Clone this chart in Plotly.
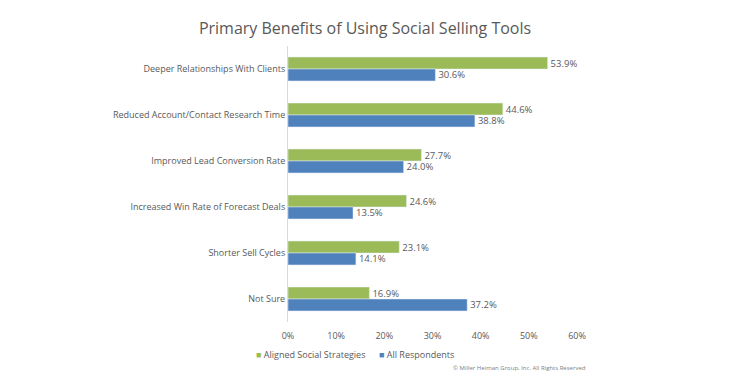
import plotly.graph_objects as go

categories = [
    "Deeper Relationships With Clients",
    "Reduced Account/Contact Research Time",
    "Improved Lead Conversion Rate",
    "Increased Win Rate of Forecast Deals",
    "Shorter Sell Cycles",
    "Not Sure",
]
aligned = [53.9, 44.6, 27.7, 24.6, 23.1, 16.9]
all_resp = [30.6, 38.8, 24.0, 13.5, 14.1, 37.2]
x_ticks = [0, 10, 20, 30, 40, 50, 60]
series_names = ["Aligned Social Strategies", "All Respondents"]
series_colors = ["#9BBB59", "#4F81BD"]

FONT = "Open Sans"
GRAY = "#595959"

fig = go.Figure()
for name, vals, col in zip(series_names, [aligned, all_resp], series_colors):
    fig.add_trace(go.Bar(
        y=categories, x=vals, orientation="h", name=name,
        marker=dict(color=col), text=[f"{v:.1f}%" for v in vals],
        textposition="outside", constraintext="none",
        textfont=dict(size=9.5, color=GRAY, family=FONT),
        cliponaxis=False, showlegend=False,
    ))

legend_x = [-0.118, 0.308]
annotations = []
for name, col, lx in zip(series_names, series_colors, legend_x):
    annotations.append(dict(
        text=f"<span style='color:{col}'>■</span> {name}",
        xref="paper", yref="paper", x=lx, y=-0.119, xanchor="left", yanchor="middle",
        showarrow=False, font=dict(size=9, color=GRAY, family=FONT)))
annotations.append(dict(text="© Miller Heiman Group, Inc. All Rights Reserved",
                        xref="paper", yref="paper", x=1.038, y=-0.166,
                        xanchor="right", yanchor="middle", showarrow=False,
                        font=dict(size=6, color="#808080", family=FONT)))

fig.update_layout(
    width=750, height=384,
    margin=dict(l=280, r=181, t=38, b=70),
    paper_bgcolor="white", plot_bgcolor="white",
    barmode="group", bargap=0.48, bargroupgap=0,
    font=dict(family=FONT, size=9, color=GRAY),
    title=dict(text="Primary Benefits of Using Social Selling Tools",
               x=0.476, xanchor="center", y=0.946, yanchor="middle",
               font=dict(family=FONT, size=16, color=GRAY)),
    xaxis=dict(range=[0, 60], tickvals=x_ticks, ticktext=[f"{t}%" for t in x_ticks],
               showgrid=False, zeroline=False, showline=False, ticks="",
               ticklabelstandoff=7,
               tickfont=dict(size=9, color=GRAY)),
    yaxis=dict(autorange="reversed", showgrid=False, showline=True,
               linecolor="#D9D9D9", linewidth=1, ticks="", ticklen=0,
               tickfont=dict(size=9, color=GRAY)),
    showlegend=False,
    annotations=annotations,
)

fig.write_html("out.html")
